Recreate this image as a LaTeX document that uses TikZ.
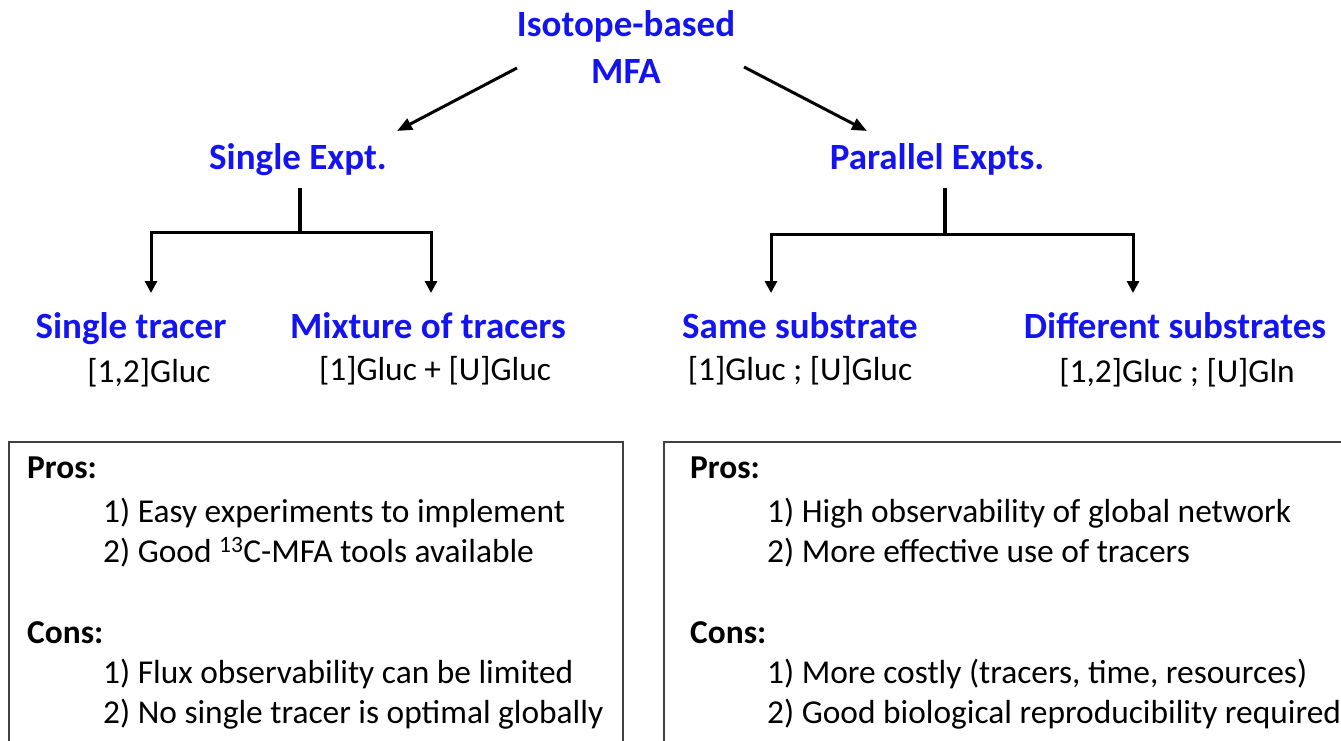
\documentclass[tikz,border=0pt]{standalone}
\usepackage{fontspec}
\setmainfont{Carlito}
\usetikzlibrary{arrows.meta}
\definecolor{hblue}{RGB}{20,20,240}
\tikzset{
  head/.style={font=\fontsize{37}{44}\selectfont\bfseries, text=hblue, inner sep=0pt, anchor=base},
  sub/.style={font=\fontsize{33.4}{40}\selectfont, text=black, inner sep=0pt, anchor=base},
  boxtxt/.style={font=\fontsize{33.4}{40}\selectfont, inner sep=0pt, anchor=base west},
  boxhead/.style={font=\fontsize{33.4}{40}\selectfont\bfseries, inner sep=0pt, anchor=base west},
  conn/.style={line width=3pt, -{Triangle[length=15pt,width=12pt]}},
  trunk/.style={line width=3.2pt},
  drop/.style={line width=3pt, line join=miter, -{Triangle[length=12pt,width=12pt]}},
  panel/.style={draw=black!75, line width=1.5pt}
}
\begin{document}
\begin{tikzpicture}[x=1pt,y=-1pt]
\useasboundingbox (0,0) rectangle (1341,741);
% titles
\node[head] (iso) at (626,37) {Isotope-based};
\node[head] (mfa) at (626,84) {MFA};
\node[head] (single) at (298,169) {Single Expt.};
\node[head] (parallel) at (937,169) {Parallel Expts.};
% arrows from top
\coordinate (tl) at (517,68);
\coordinate (tle) at (397,131);
\coordinate (tr) at (744,67);
\coordinate (tre) at (867,131);
\draw[conn] (tl) -- (tle);
\draw[conn] (tr) -- (tre);
% left tree
\coordinate (ls) at (300,188);
\coordinate (lj) at (300,232);
\coordinate (la) at (151,232);
\coordinate (lb) at (431,232);
\coordinate (lae) at (151,293);
\coordinate (lbe) at (431,293);
\draw[trunk] (ls) -- (lj);
\draw[drop] (lj) -- (la) -- (lae);
\draw[drop] (lj) -- (lb) -- (lbe);
% right tree
\coordinate (rs) at (945,188);
\coordinate (rj) at (945,234);
\coordinate (ra) at (771,234);
\coordinate (rb) at (1133,234);
\coordinate (rae) at (771,293);
\coordinate (rbe) at (1133,293);
\draw[trunk] (rs) -- (rj);
\draw[drop] (rj) -- (ra) -- (rae);
\draw[drop] (rj) -- (rb) -- (rbe);
% leaves
\node[head] (st) at (131,338) {Single tracer};
\node[sub] (stx) at (149,382) {[1,2]Gluc};
\node[head] (mt) at (428,338) {Mixture of tracers};
\node[sub] (mtx) at (435,380) {[1]Gluc + [U]Gluc};
\node[head] (ss) at (800,338) {Same substrate};
\node[sub] (ssx) at (800,380) {[1]Gluc ; [U]Gluc};
\node[head] (ds) at (1175,338) {Different substrates};
\node[sub] (dsx) at (1177,382) {[1,2]Gluc ; [U]Gln};
% panels
\draw[panel] (9,745) -- (9,442) -- (623,442) -- (623,745);
\draw[panel] (664,745) -- (664,442) -- (1345,442);
% left panel text
\node[boxhead] (lp) at (27,478) {Pros:};
\node[boxtxt] (lp1) at (103,522) {1) Easy experiments to implement};
\node[boxtxt] (lp2) at (103,562) {2) Good \textsuperscript{13}C-MFA tools available};
\node[boxhead] (lc) at (27,643) {Cons:};
\node[boxtxt] (lc1) at (103,683) {1) Flux observability can be limited};
\node[boxtxt] (lc2) at (103,723) {2) No single tracer is optimal globally};
% right panel text
\node[boxhead] (rp) at (690,478) {Pros:};
\node[boxtxt] (rp1) at (767,522) {1) High observability of global network};
\node[boxtxt] (rp2) at (767,562) {2) More effective use of tracers};
\node[boxhead] (rc) at (690,643) {Cons:};
\node[boxtxt] (rc1) at (767,683) {1) More costly (tracers, time, resources)};
\node[boxtxt] (rc2) at (767,723) {2) Good biological reproducibility required};
\end{tikzpicture}
\end{document}
